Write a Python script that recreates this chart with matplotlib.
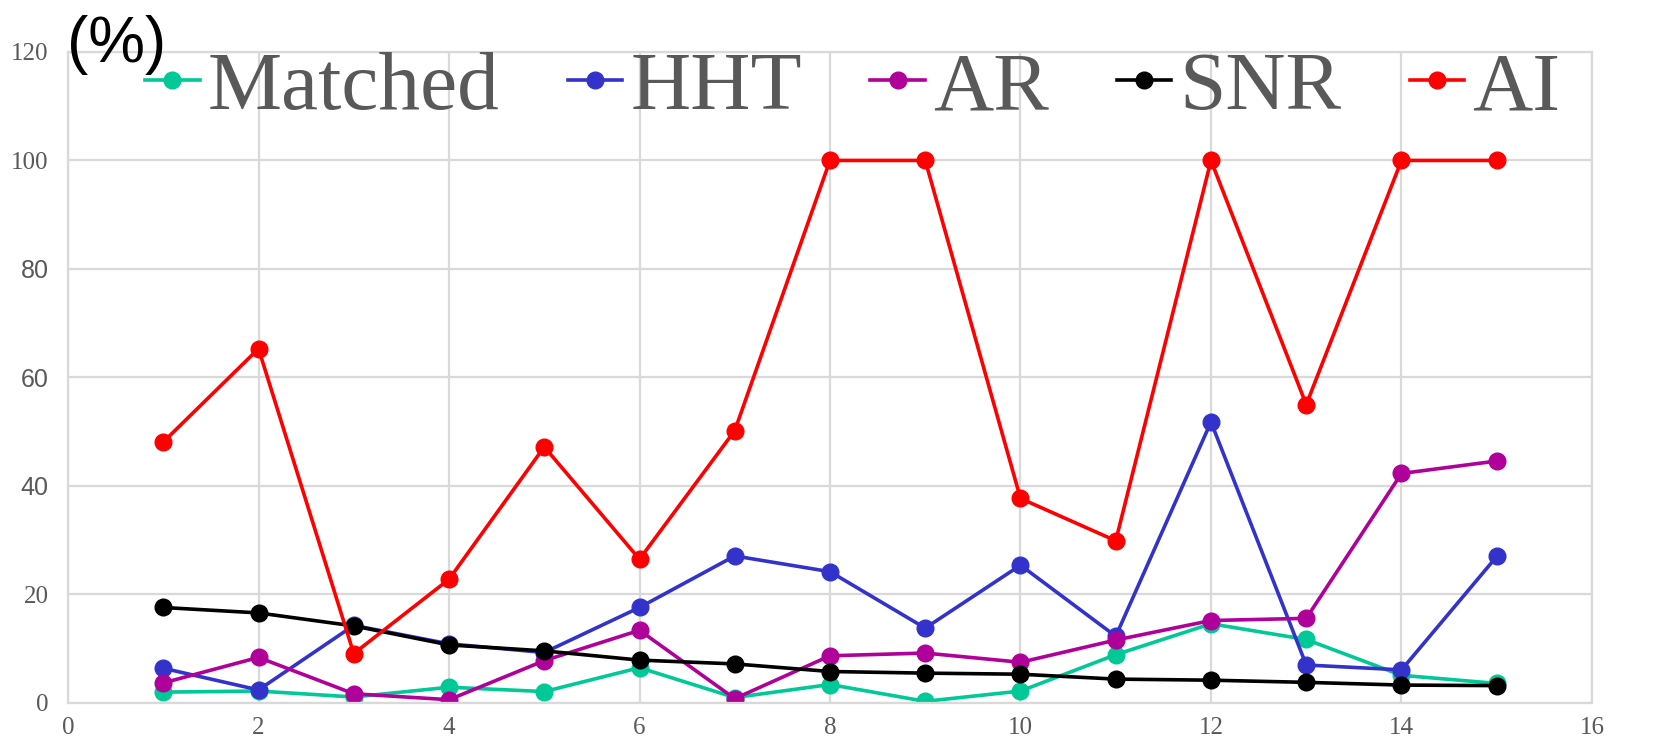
import matplotlib
matplotlib.use("Agg")
import matplotlib.pyplot as plt

# data
x = list(range(1, 16))
matched = [2.0, 2.2, 1.1, 2.9, 2.1, 6.5, 1.0, 3.4, 0.3, 2.2, 8.9, 14.6, 11.7, 5.1, 3.6]
hht = [6.4, 2.4, 14.3, 10.9, 9.3, 17.6, 27.1, 24.2, 13.8, 25.4, 12.3, 51.8, 7.0, 6.1, 27.0]
ar = [3.7, 8.4, 1.7, 0.6, 7.8, 13.4, 0.8, 8.7, 9.2, 7.5, 11.6, 15.2, 15.6, 42.3, 44.6]
snr = [17.6, 16.6, 14.2, 10.7, 9.6, 7.9, 7.2, 5.8, 5.5, 5.3, 4.4, 4.2, 3.8, 3.3, 3.2]
ai = [48.1, 65.3, 9.1, 22.8, 47.2, 26.5, 50.2, 100, 100, 37.7, 29.9, 100, 55.0, 100, 100]

names = ["Matched", "HHT", "AR", "SNR", "AI"]
series = [matched, hht, ar, snr, ai]
colors = ["#00C896", "#3333CC", "#B0009A", "#000000", "#FF0000"]

fig = plt.figure(figsize=(16.67, 7.42), dpi=100)
ax = fig.add_axes([0.0408, 0.0526, 0.9142, 0.8774])

for name, ys, c in zip(names, series, colors):
    ax.plot(x, ys, color=c, lw=2.6, marker="o", ms=12, label=name)

ax.set_xlim(0, 16)
ax.set_ylim(0, 120)
ax.set_xticks(range(0, 17, 2))
ax.set_yticks(range(0, 121, 20))
ax.grid(True, color="#D9D9D9", lw=1.6)
ax.set_axisbelow(True)
for s in ax.spines.values():
    s.set_color("#D9D9D9")
    s.set_linewidth(1.6)
ax.tick_params(length=0, labelsize=18, labelcolor="#595959")
ax.tick_params(axis="y", pad=14)
ax.tick_params(axis="x", pad=10)
for lab in ax.get_xticklabels():
    lab.set_family("Liberation Serif")
for lab in ax.get_yticklabels():
    if lab.get_text() in ("40", "60", "80"):
        lab.set_family("Liberation Sans")
    else:
        lab.set_family("Liberation Serif")

leg = ax.legend(loc="upper center", bbox_to_anchor=(0.515, 1.053), ncol=5,
                frameon=False, handlelength=0.65, handletextpad=0.1,
                columnspacing=0.82, borderaxespad=0,
                prop={"family": "Liberation Serif", "size": 60})
for t in leg.get_texts():
    t.set_color("#595959")

fig.text(0.040, 0.98, "(%)", fontsize=46, family="Liberation Sans",
         ha="left", va="top", color="black")

fig.savefig("out.png", dpi=100)
